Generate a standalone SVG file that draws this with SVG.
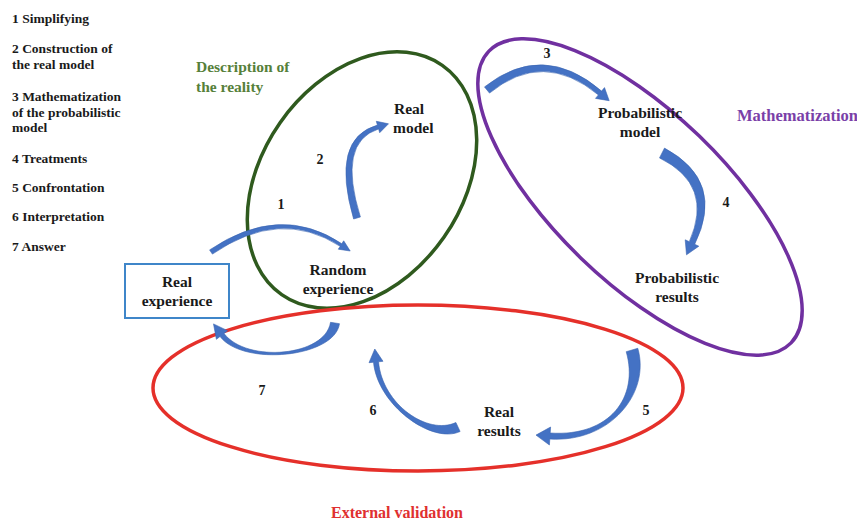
<svg xmlns="http://www.w3.org/2000/svg" width="857" height="520" viewBox="0 0 857 520">
<style>
text{font-family:"Liberation Serif","Times New Roman",serif;font-weight:bold}
.leg{font-size:13.5px;fill:#1a1a1a}
.lbl{font-size:15.5px;fill:#1a1a1a;text-anchor:middle}
.lbs{font-size:15.5px;fill:#1a1a1a;text-anchor:start}
.num{font-size:14px;fill:#1a1a1a;text-anchor:middle}
.arr{fill:#4472c4;stroke:#3a64b0;stroke-width:0.6;stroke-linejoin:round}
.zone{fill:none;stroke-width:3.5}
</style>
<rect width="857" height="520" fill="#ffffff"/>

<g id="legend">
<text class="leg" x="12" y="23">1 Simplifying</text>
<text class="leg" x="12" y="53">2 Construction of</text>
<text class="leg" x="12" y="69">the real model</text>
<text class="leg" x="12" y="101">3 Mathematization</text>
<text class="leg" x="12" y="117">of the probabilistic</text>
<text class="leg" x="12" y="132">model</text>
<text class="leg" x="12" y="163">4 Treatments</text>
<text class="leg" x="12" y="192">5 Confrontation</text>
<text class="leg" x="12" y="221">6 Interpretation</text>
<text class="leg" x="12" y="251">7 Answer</text>
</g>

<g id="zone-description">
<ellipse class="zone" cx="362" cy="180" rx="140" ry="100" transform="rotate(-55 362 180)" stroke="#2f5a1e"/>
<text x="196" y="72" font-size="15.5" fill="#56803a">Description of</text>
<text x="196" y="92" font-size="15.5" fill="#56803a">the reality</text>
</g>

<g id="zone-mathematization">
<ellipse class="zone" cx="640" cy="197" rx="210" ry="85" transform="rotate(44 640 197)" stroke="#7030a0"/>
<text x="737" y="121" font-size="16.5" fill="#7a3fa8">Mathematization</text>
</g>

<g id="zone-validation">
<ellipse class="zone" cx="418" cy="388" rx="265" ry="83" stroke="#e5302a"/>
<text x="397" y="518" font-size="16" fill="#e03030" text-anchor="middle">External validation</text>
</g>

<g id="real-experience">
<rect x="125" y="264" width="104" height="54" fill="#ffffff" stroke="#3f86c9" stroke-width="2"/>
<text class="lbl" x="177" y="287">Real</text>
<text class="lbl" x="177" y="306">experience</text>
</g>

<g id="random-experience">
<text class="lbl" x="338" y="275">Random</text>
<text class="lbl" x="338" y="294">experience</text>
</g>

<g id="real-model">
<text class="lbs" x="394" y="114">Real</text>
<text class="lbs" x="393" y="133">model</text>
</g>

<g id="probabilistic-model">
<text class="lbl" x="640" y="118">Probabilistic</text>
<text class="lbl" x="640" y="137">model</text>
</g>

<g id="probabilistic-results">
<text class="lbl" x="677" y="283">Probabilistic</text>
<text class="lbl" x="677" y="302">results</text>
</g>

<g id="real-results">
<text class="lbl" x="499" y="417">Real</text>
<text class="lbl" x="499" y="436">results</text>
</g>

<g id="connectors">
<path id="arrow-1" class="arr" d="M209.6,249.9 Q280,202.6 341.8,243.7 L343.7,240.8 L350.2,251 L338.3,249.2 L340.2,246.3 Q280,207.4 212.4,254.1 Z"/>
<path id="arrow-2" class="arr" d="M353.6,219 Q330.3,138.5 377.4,125.1 L376.3,121.3 L388.5,123.8 L379.7,132.7 L378.6,128.9 Q337.1,142.1 360.4,217 Z"/>
<path id="arrow-3" class="arr" d="M484.5,86.9 Q543,40.8 601.6,91.1 L604.5,87.6 L609.2,100.7 L595.5,98.4 L598.4,94.9 Q543,49.2 489.5,93.1 Z"/>
<path id="arrow-4" class="arr" d="M664.5,148.1 Q725.6,181.1 694.7,244.3 L698.8,246.2 L686.5,254.8 L685.2,239.8 L689.3,241.7 Q714.4,184.9 659.5,157.9 Z"/>
<path id="arrow-5" class="arr" d="M637.8,348.3 C650.8,393.3 609.8,443 549.8,439 L549.4,445 L536,435.1 L550.6,427 L550.2,433 C610.2,437 639.2,396.7 626.2,351.7 Z"/>
<path id="arrow-6" class="arr" d="M460.1,431.5 C432.1,444.5 377.5,405.2 373.5,362.2 L369,362.7 L374.8,349 L383,361.3 L378.5,361.8 C382.5,404.8 427.9,435.5 455.9,422.5 Z"/>
<path id="arrow-7" class="arr" d="M339.5,323.7 C334.5,357.7 243,366.5 220,336.5 L216.4,339.3 L213.5,323.9 L227.6,330.7 L224,333.5 C247,363.5 325.5,356.3 330.5,322.3 Z"/>
<text class="num" x="281" y="209">1</text>
<text class="num" x="320" y="164">2</text>
<text class="num" x="547" y="58">3</text>
<text class="num" x="726" y="207">4</text>
<text class="num" x="646" y="415">5</text>
<text class="num" x="373" y="415">6</text>
<text class="num" x="262" y="395">7</text>
</g>
</svg>
